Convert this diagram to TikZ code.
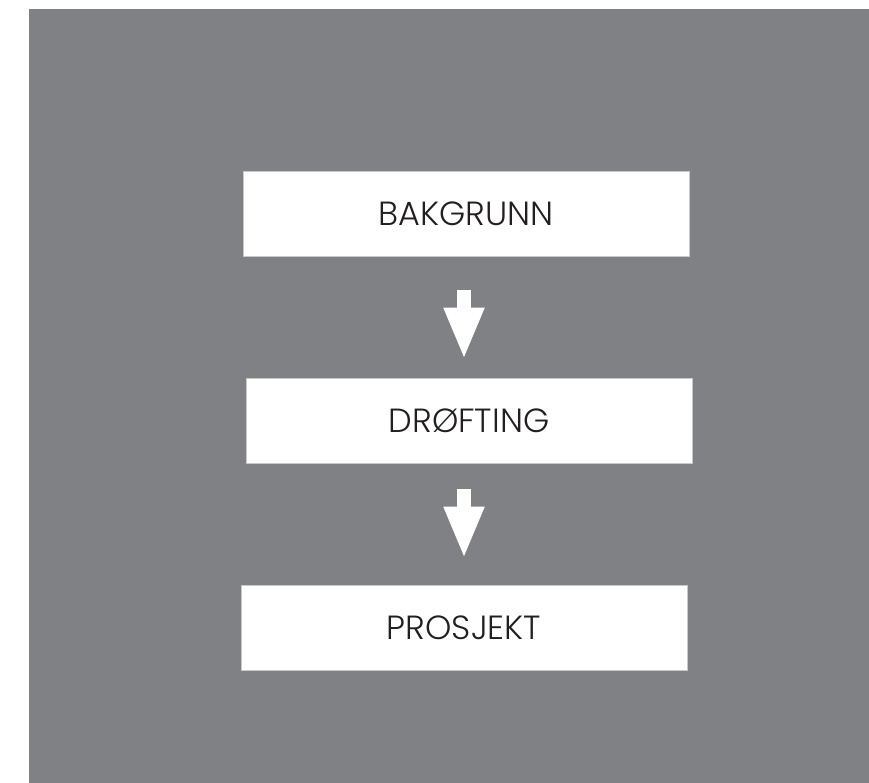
\documentclass[tikz,border=0pt]{standalone}
\usepackage{fontspec}
\setmainfont{Poppins}[UprightFont={* Light}]
\usepackage{tikz}
\usetikzlibrary{positioning, arrows.meta}

\definecolor{bggray}{RGB}{128,129,133}
\definecolor{boxline}{RGB}{200,200,203}
\definecolor{txtdark}{RGB}{35,31,32}

\tikzset{
  stage/.style={fill=white, draw=boxline, line width=0.6pt,
                minimum width=446pt, minimum height=85pt,
                inner sep=0pt, text=txtdark,
                font=\fontsize{33.5}{38}\selectfont},
  blockarrow/.style={draw=white, line width=14pt,
                -{Triangle[width=37pt, length=52pt]}}
}

\begin{document}
\begin{tikzpicture}[x=1pt, y=-1pt]
    \useasboundingbox (0,0) rectangle (869,783);
    \fill[bggray] (29,9) rectangle (869,783);
    \node[stage] (bakgrunn) at (466,213.5) {BAKGRUNN};
    \node[stage] (drofting) at (469,420.5) {DRØFTING};
    \node[stage] (prosjekt) at (464,627.5) {PROSJEKT};
    \draw[blockarrow, shorten <=34pt, shorten >=18pt]
      (bakgrunn.south -| prosjekt) -- (drofting.north -| prosjekt);
    \draw[blockarrow, shorten <=26pt, shorten >=26pt]
      (drofting.south -| prosjekt) -- (prosjekt.north);
\end{tikzpicture}
\end{document}
